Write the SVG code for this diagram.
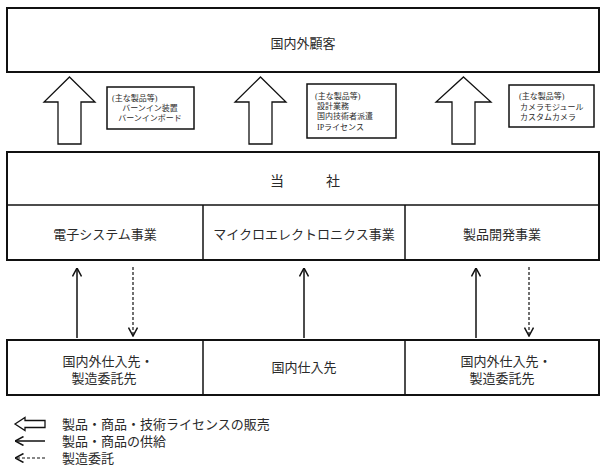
<svg xmlns="http://www.w3.org/2000/svg" width="607" height="472" viewBox="0 0 607 472">
<style>
text{font-family:"Liberation Serif","Noto Sans CJK JP",serif;fill:#2a2a2a}
.t{font-size:13px;text-anchor:middle}
.s{font-size:8px}
.c{text-anchor:middle}
.box{fill:#fff;stroke:#111;stroke-width:2}
.info{fill:#fff;stroke:#111;stroke-width:1.5}
.div{stroke:#111;stroke-width:1.5}
.hollow{fill:#fff;stroke:#111;stroke-width:1.3;stroke-linejoin:miter}
.sol{stroke:#111;stroke-width:1.5;fill:none}
.dash{stroke:#111;stroke-width:1.2;fill:none;stroke-dasharray:3 2}
</style>
<defs>
<marker id="ah" viewBox="0 0 10 10" refX="9.5" refY="5" markerWidth="10" markerHeight="10" markerUnits="userSpaceOnUse" orient="auto">
<path d="M1,0.5 L9.5,5 L1,9.5" fill="none" stroke="#111" stroke-width="1.5"/>
</marker>
</defs>

<g id="customers">
<rect class="box" x="7" y="8" width="592" height="64"/>
<text class="t" x="303" y="48">国内外顧客</text>
</g>

<g id="company">
<rect class="box" x="7" y="152" width="592" height="108"/>
<line class="div" x1="7" y1="205" x2="599" y2="205"/>
<line class="div" x1="203" y1="205" x2="203" y2="260"/>
<line class="div" x1="405" y1="205" x2="405" y2="260"/>
<text class="t" x="305" y="186" xml:space="preserve" style="font-size:14px">当　　　社</text>
</g>
<g id="div-electronic"><text class="t" x="105" y="239">電子システム事業</text></g>
<g id="div-micro"><text class="t" x="304" y="239">マイクロエレクトロニクス事業</text></g>
<g id="div-product"><text class="t" x="502" y="239">製品開発事業</text></g>

<g id="suppliers">
<rect class="box" x="7" y="340" width="592" height="55"/>
<line class="div" x1="203" y1="340" x2="203" y2="395"/>
<line class="div" x1="405" y1="340" x2="405" y2="395"/>
</g>
<g id="sup-1"><text class="t" x="108" y="366">国内外仕入先・</text><text class="t" x="104" y="383">製造委託先</text></g>
<g id="sup-2"><text class="t" x="304" y="372">国内仕入先</text></g>
<g id="sup-3"><text class="t" x="506" y="366">国内外仕入先・</text><text class="t" x="502" y="383">製造委託先</text></g>

<g id="info-1">
<rect class="info" x="107" y="87" width="87" height="42"/>
<text class="s" x="112" y="101">(主な製品等)</text>
<text class="s c" x="150" y="111">バーンイン装置</text>
<text class="s c" x="150" y="121">バーンインボード</text>
</g>
<g id="info-2">
<rect class="info" x="307" y="84" width="89" height="54"/>
<text class="s" x="315" y="99">(主な製品等)</text>
<text class="s" x="317" y="109">設計業務</text>
<text class="s" x="317" y="119">国内技術者派遣</text>
<text class="s" x="317" y="130">IPライセンス</text>
</g>
<g id="info-3">
<rect class="info" x="509" y="85" width="85" height="42"/>
<text class="s" x="519" y="99">(主な製品等)</text>
<text class="s" x="520" y="110">カメラモジュール</text>
<text class="s" x="520" y="120">カスタムカメラ</text>
</g>

<g id="connectors">
<path class="hollow" d="M69.5,77 L95,102 L81,102 L81,144 L58,144 L58,102 L44,102 Z"/>
<path class="hollow" d="M260.5,77 L286,102 L272,102 L272,144 L249,144 L249,102 L235,102 Z"/>
<path class="hollow" d="M463.5,77 L491,102 L475,102 L475,144 L452,144 L452,102 L436,102 Z"/>
<line class="sol" x1="77" y1="338" x2="77" y2="268" marker-end="url(#ah)"/>
<line class="dash" x1="133" y1="267" x2="133" y2="336" marker-end="url(#ah)"/>
<line class="sol" x1="304" y1="338" x2="304" y2="268" marker-end="url(#ah)"/>
<line class="sol" x1="476" y1="338" x2="476" y2="268" marker-end="url(#ah)"/>
<line class="dash" x1="529" y1="267" x2="529" y2="336" marker-end="url(#ah)"/>
</g>

<g id="legend">
<path class="hollow" d="M15,424 L25,417.5 L25,420.5 L45,420.5 L45,427.5 L25,427.5 L25,430.5 Z"/>
<line class="sol" x1="45" y1="441" x2="15" y2="441" marker-end="url(#ah)"/>
<line class="dash" x1="45" y1="458" x2="15" y2="458" marker-end="url(#ah)"/>
<text class="t" x="62" y="428.5" style="text-anchor:start">製品・商品・技術ライセンスの販売</text>
<text class="t" x="62" y="445.5" style="text-anchor:start">製品・商品の供給</text>
<text class="t" x="62" y="462.5" style="text-anchor:start">製造委託</text>
</g>
</svg>
